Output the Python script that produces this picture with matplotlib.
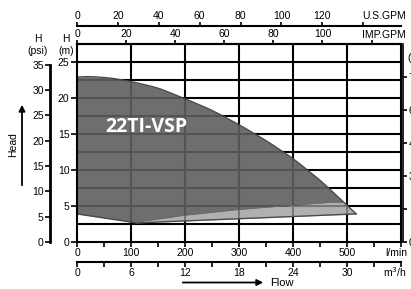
import numpy as np
import matplotlib
matplotlib.use("Agg")
import matplotlib.pyplot as plt

# ---- data (flow in l/min, head in m) ----
flow_top = [0, 20, 60, 100, 150, 200, 250, 300, 350, 400, 450, 500, 517]
head_top = [22.9, 23.0, 22.8, 22.3, 21.4, 19.9, 18.3, 16.3, 14.1, 11.6, 8.6, 5.1, 3.9]

flow_dark_low = [0, 110, 200, 300, 400, 470, 495]
head_dark_low = [3.9, 2.75, 3.7, 4.5, 5.1, 5.5, 5.5]

flow_low = [0, 110, 517]
head_low = [3.9, 2.65, 3.9]

lmin_ticks = [0, 100, 200, 300, 400, 500, 600]
lmin_labels = ['0', '100', '200', '300', '400', '500', '']
m3h_ticks = [0, 6, 12, 18, 24, 30, 36]
m3h_labels = ['0', '6', '12', '18', '24', '30', '']
imp_ticks = [0, 20, 40, 60, 80, 100, 120]
imp_labels = ['0', '20', '40', '60', '80', '100', '']
us_ticks = [0, 20, 40, 60, 80, 100, 120, 140]
us_labels = ['0', '20', '40', '60', '80', '100', '120', '']
m_ticks = [0, 5, 10, 15, 20, 25]
psi_ticks = [0, 5, 10, 15, 20, 25, 30, 35]
ft_ticks = [0, 15, 30, 45, 60, 75]
model_name = '22TI-VSP'

plt.rcParams['font.family'] = ['Liberation Sans', 'DejaVu Sans']
FS = 7.5
LW = 1.5

W, H = 411, 289
fig = plt.figure(figsize=(W / 100, H / 100), dpi=100)

def px(x, y):
    return x / W, 1 - y / H

L, R, T, B = 77, 401, 44, 242
ax = fig.add_axes([L / W, 1 - B / H, (R - L) / W, (B - T) / H])
ax.set_xlim(0, 600)
ax.set_ylim(0, 27.5)

# grid
for v in range(100, 600, 100):
    ax.axvline(v, color='black', lw=LW, zorder=1)
for h in np.arange(2.5, 27.5, 2.5):
    ax.axhline(h, color='black', lw=LW, zorder=1)

# fills
xs = np.linspace(0, 517, 800)
top_raw = np.interp(xs, flow_top, head_top)
k = 41
kern = np.ones(k) / k
top = np.convolve(np.pad(top_raw, k // 2, mode='reflect', reflect_type='odd'), kern, mode='valid')
blend = np.clip((xs - 470) / 30, 0, 1)
top = top * (1 - blend) + top_raw * blend
dlow = np.interp(xs, flow_dark_low, head_dark_low)
llow = np.interp(xs, flow_low, head_low)

mask_d = xs <= 495
ax.fill_between(xs[mask_d], dlow[mask_d], top[mask_d], color='#5e5e60', alpha=0.9,
                lw=0, zorder=2)
mask_l = xs >= 105
upper_l = np.where(xs <= 495, np.minimum(dlow, top), top)
ax.fill_between(xs[mask_l], llow[mask_l], upper_l[mask_l], color='#9a9a9c', alpha=0.78,
                lw=0, zorder=2)
ax.plot(xs, top, color='#4a4a4a', lw=1.0, zorder=3)
ax.plot(flow_low, head_low, color='#4a4a4a', lw=1.0, zorder=3)
ax.plot(flow_dark_low[1:], head_dark_low[1:], color='#6a6a6a', lw=0.6, zorder=3)

ax.text(52, 16.0, model_name, color='white', fontsize=14, fontweight='bold',
        family=['Open Sans', 'DejaVu Sans'], ha='left', va='center', zorder=4)

for s in ax.spines.values():
    s.set_linewidth(LW)
    s.set_zorder(5)

# main axes ticks
ax.set_xticks(lmin_ticks)
ax.set_xticklabels(lmin_labels)
ax.set_xticks(np.arange(0, 601, 50), minor=True)
ax.tick_params(axis='x', which='both', direction='out', length=3.5, width=1.2,
               labelsize=FS, pad=1)
ax.set_yticks(m_ticks)
ax.tick_params(axis='y', which='both', direction='out', length=4, width=1.2,
               labelsize=FS, pad=1.5)

# m3/h axis
ax_m3 = ax.secondary_xaxis(-(262 - B) / (B - T),
                           functions=(lambda q: q * 0.06, lambda m: m / 0.06))
ax_m3.set_xticks(m3h_ticks)
ax_m3.set_xticklabels(m3h_labels)
ax_m3.set_xticks(np.arange(0, 37, 3), minor=True)
ax_m3.tick_params(axis='x', which='both', direction='out', length=3.5, width=1.2,
                  labelsize=FS, pad=1)
ax_m3.spines['bottom'].set_linewidth(LW)

# IMP GPM axis (top border)
ax_imp = ax.secondary_xaxis('top', functions=(lambda q: q / 4.54609, lambda g: g * 4.54609))
ax_imp.set_xticks(imp_ticks)
ax_imp.set_xticklabels(imp_labels)
ax_imp.tick_params(axis='x', direction='out', length=3, width=1.2, labelsize=FS, pad=0.5)
ax_imp.spines['top'].set_linewidth(LW)

# US GPM axis
ax_us = ax.secondary_xaxis(1 + (B - 26 - (B - T)) / (B - T),
                           functions=(lambda q: q / 3.78541, lambda g: g * 3.78541))
ax_us.set_xticks(us_ticks)
ax_us.set_xticklabels(us_labels)
ax_us.tick_params(axis='x', direction='out', length=3, width=1.2, labelsize=FS, pad=0.5)
ax_us.spines['top'].set_linewidth(LW)

# psi axis
ax_psi = ax.secondary_yaxis(-(L - 50) / (R - L),
                            functions=(lambda m: m * 1.42197, lambda p: p / 1.42197))
ax_psi.set_yticks(psi_ticks)
ax_psi.tick_params(axis='y', direction='out', length=3.5, width=1.2, labelsize=FS, pad=1)
ax_psi.spines['left'].set_linewidth(2)
ax_psi.spines['left'].set_bounds(0, 35)

# ft axis (right, cropped at the figure edge as in the original)
ax_ft = ax.secondary_yaxis(1 + 1.6 / (R - L),
                           functions=(lambda m: m * 3.28084, lambda f: f / 3.28084))
ax_ft.set_yticks(ft_ticks)
ax_ft.tick_params(axis='y', direction='out', length=3, width=1.2, labelsize=FS, pad=1.5)
ax_ft.spines['right'].set_linewidth(1.2)

# unit labels
fig.text(*px(362, 16), 'U.S.GPM', fontsize=FS, ha='left', va='center')
fig.text(*px(362, 35), 'IMP.GPM', fontsize=FS, ha='left', va='center')
fig.text(*px(396, 253), 'l/min', fontsize=FS, ha='center', va='center')
fig.text(*px(395, 272), 'm$^3$/h', fontsize=FS, ha='center', va='center')
fig.text(*px(407, 58), '(ft)', fontsize=FS, ha='left', va='center')
fig.text(*px(38, 39), 'H', fontsize=FS, ha='center', va='center')
fig.text(*px(38, 51), '(psi)', fontsize=FS, ha='center', va='center')
fig.text(*px(66, 39), 'H', fontsize=FS, ha='center', va='center')
fig.text(*px(66, 51), '(m)', fontsize=FS, ha='center', va='center')

# Head label and arrow
fig.text(*px(13, 145), 'Head', fontsize=FS, rotation=90, ha='center', va='center')
fig.patches.append(matplotlib.patches.FancyArrowPatch(
    px(22, 188), px(22, 102), transform=fig.transFigure, arrowstyle='-|>',
    mutation_scale=9, lw=1.3, color='black'))

# Flow label and arrow
fig.text(*px(270, 283), 'Flow', fontsize=FS + 0.5, ha='left', va='center')
fig.patches.append(matplotlib.patches.FancyArrowPatch(
    px(180, 282.5), px(266, 282.5), transform=fig.transFigure, arrowstyle='-|>',
    mutation_scale=9, lw=1.3, color='black'))

fig.savefig('out.png', dpi=100)
